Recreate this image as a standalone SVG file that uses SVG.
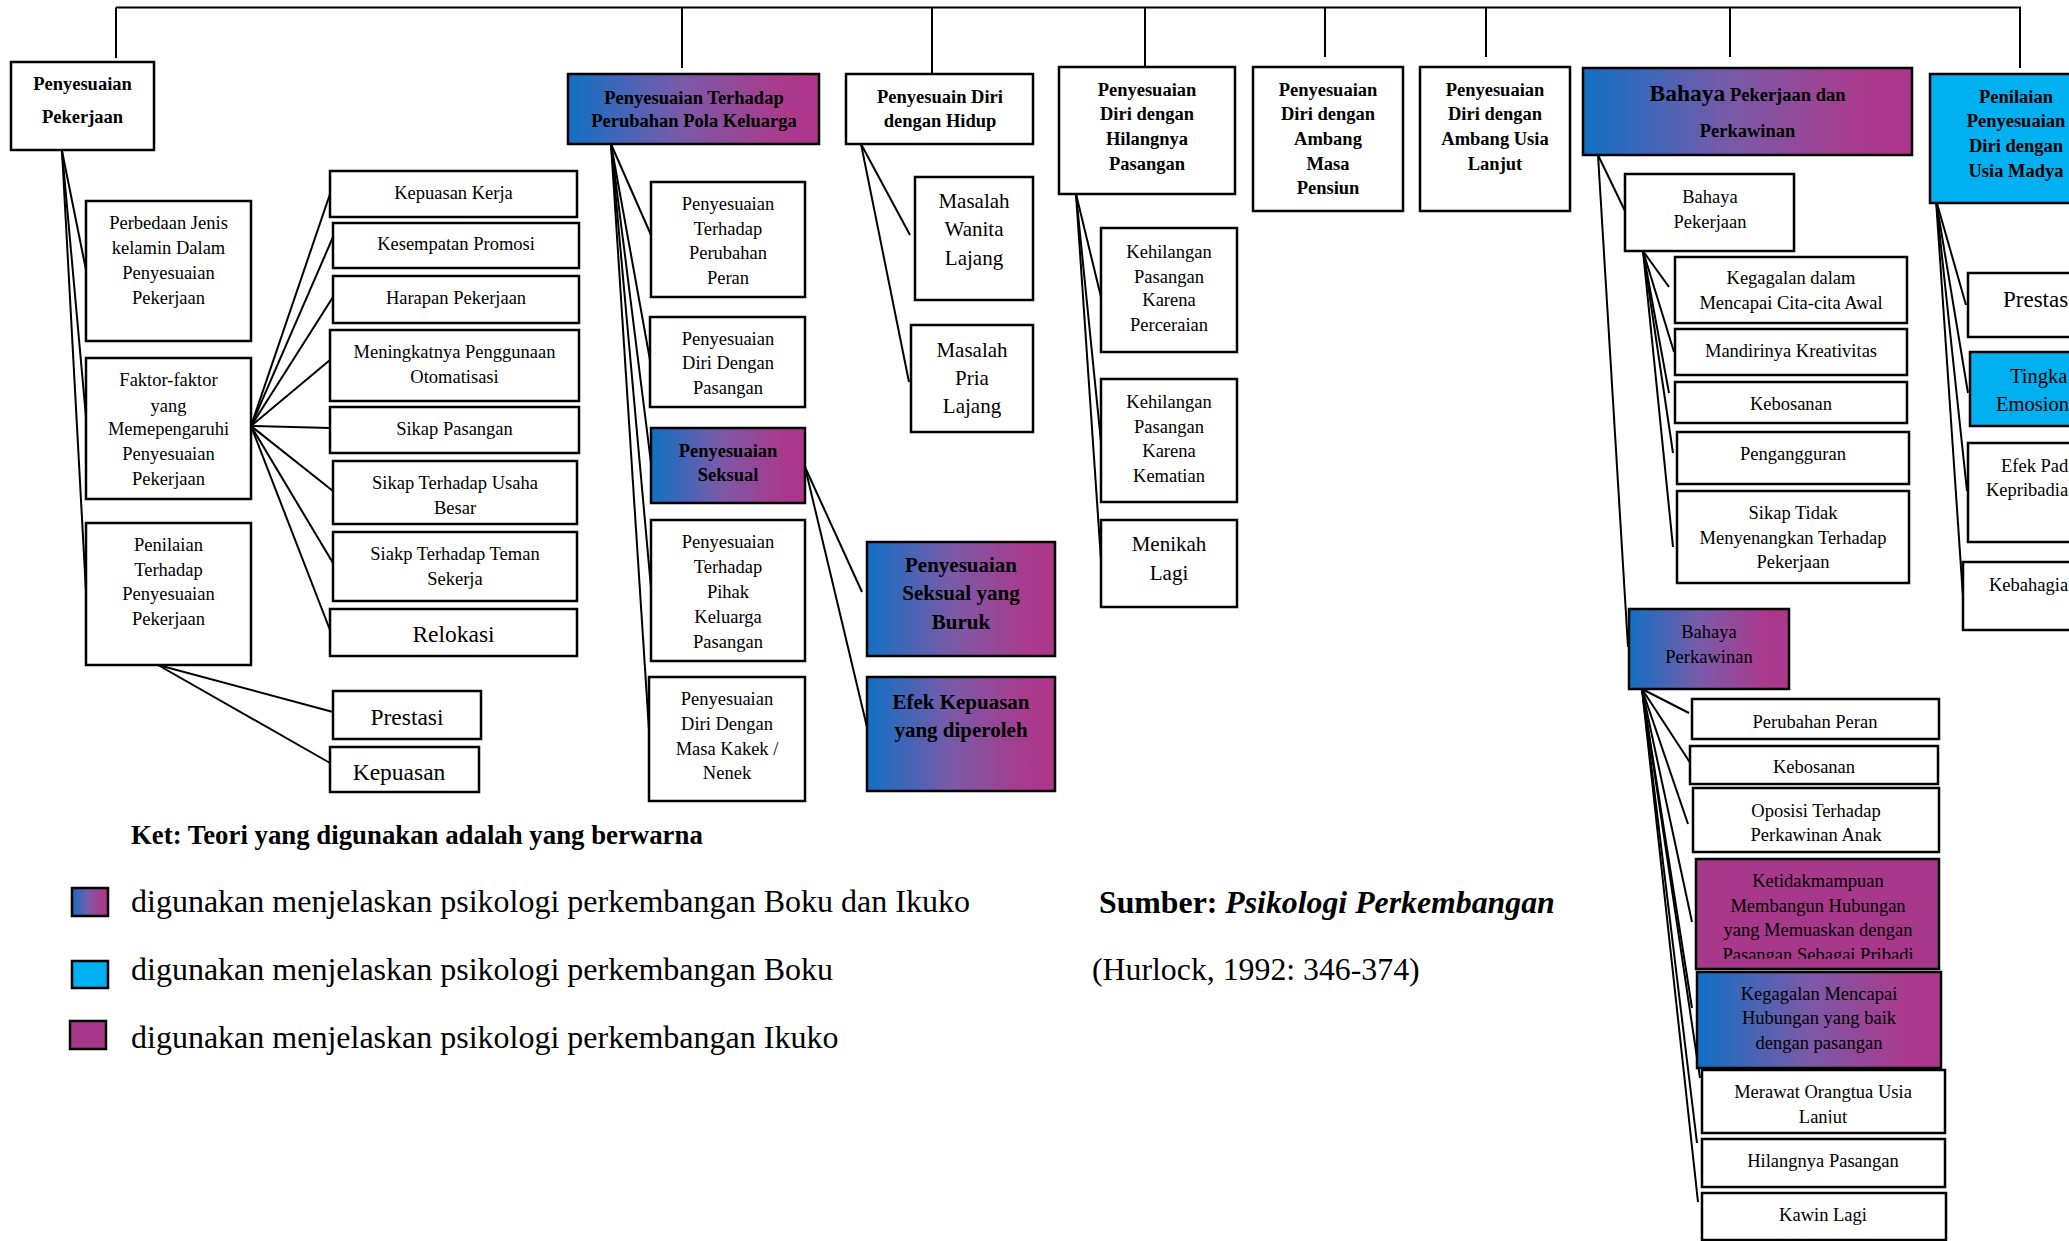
<svg xmlns="http://www.w3.org/2000/svg" width="2069" height="1241" viewBox="0 0 2069 1241">
<defs>
<linearGradient id="gd" x1="0" y1="0" x2="1" y2="0">
<stop offset="0" stop-color="#1170c4"/>
<stop offset="0.45" stop-color="#7a5aa8"/>
<stop offset="0.85" stop-color="#aa3a8c"/>
<stop offset="1" stop-color="#ac368a"/>
</linearGradient>
<clipPath id="clipK"><rect x="1690" y="855" width="260" height="104"/></clipPath>
<clipPath id="clipM"><rect x="1700" y="1068" width="250" height="55.5"/></clipPath>
<style>
.bx{fill:#fff;stroke:#000;stroke-width:2.5}
.gr{fill:url(#gd);stroke:#000;stroke-width:2.5}
.cy{fill:#00b0f0;stroke:#000;stroke-width:2.5}
.mg{fill:#a8388a;stroke:#000;stroke-width:2.5}
.sw{stroke:#000;stroke-width:2.5}
#connectors line{stroke:#000;stroke-width:2;fill:none}
text{font-family:"Liberation Serif","Times New Roman",serif;fill:#000}
.t{font-size:18.5px;text-anchor:middle}
.tb{font-size:18.5px;font-weight:bold;text-anchor:middle}
.m{font-size:21px;text-anchor:middle}
.mb{font-size:21px;font-weight:bold;text-anchor:middle}
.l{font-size:23.5px;text-anchor:middle}
.lg{font-size:32px}
.e{font-size:18.5px}
</style>
</defs>
<rect x="0" y="0" width="2069" height="1241" fill="#fff"/>

<g id="connectors">
<line x1="116" y1="7.5" x2="2021" y2="7.5"/>
<line x1="116" y1="7.5" x2="116" y2="58"/>
<line x1="682" y1="7.5" x2="682" y2="68"/>
<line x1="932" y1="7.5" x2="932" y2="74"/>
<line x1="1145" y1="7.5" x2="1145" y2="67"/>
<line x1="1325" y1="7.5" x2="1325" y2="57"/>
<line x1="1486" y1="7.5" x2="1486" y2="57"/>
<line x1="1730" y1="7.5" x2="1730" y2="57"/>
<line x1="2020" y1="7.5" x2="2020" y2="68"/>
<line x1="62" y1="151" x2="86" y2="270"/>
<line x1="62" y1="151" x2="86" y2="417"/>
<line x1="62" y1="151" x2="86" y2="592"/>
<line x1="251" y1="426" x2="330" y2="194"/>
<line x1="251" y1="426" x2="333" y2="237"/>
<line x1="251" y1="426" x2="333" y2="297"/>
<line x1="251" y1="426" x2="330" y2="360"/>
<line x1="251" y1="426" x2="330" y2="428"/>
<line x1="251" y1="426" x2="333" y2="491"/>
<line x1="251" y1="426" x2="333" y2="563"/>
<line x1="251" y1="426" x2="330" y2="630"/>
<line x1="158" y1="665" x2="333" y2="712"/>
<line x1="158" y1="665" x2="330" y2="763"/>
<line x1="611" y1="144" x2="651" y2="235"/>
<line x1="611" y1="144" x2="650" y2="360"/>
<line x1="611" y1="144" x2="651" y2="463"/>
<line x1="611" y1="144" x2="651" y2="588"/>
<line x1="611" y1="144" x2="649" y2="730"/>
<line x1="805" y1="467" x2="862" y2="592"/>
<line x1="805" y1="467" x2="867" y2="727"/>
<line x1="861" y1="144" x2="910" y2="235"/>
<line x1="861" y1="144" x2="909" y2="382"/>
<line x1="1076" y1="194" x2="1101" y2="297"/>
<line x1="1076" y1="194" x2="1101" y2="442"/>
<line x1="1076" y1="194" x2="1101" y2="560"/>
<line x1="1598" y1="155" x2="1625" y2="211"/>
<line x1="1598" y1="155" x2="1628" y2="647"/>
<line x1="1643" y1="251" x2="1669" y2="287"/>
<line x1="1643" y1="251" x2="1674" y2="352"/>
<line x1="1643" y1="251" x2="1669" y2="393"/>
<line x1="1643" y1="251" x2="1673" y2="453"/>
<line x1="1643" y1="251" x2="1673" y2="547"/>
<line x1="1642" y1="689" x2="1689" y2="713"/>
<line x1="1642" y1="689" x2="1691" y2="764"/>
<line x1="1642" y1="689" x2="1688" y2="824"/>
<line x1="1642" y1="689" x2="1692" y2="922"/>
<line x1="1642" y1="689" x2="1692" y2="1008"/>
<line x1="1642" y1="689" x2="1700" y2="1078"/>
<line x1="1642" y1="689" x2="1697" y2="1143"/>
<line x1="1642" y1="689" x2="1698" y2="1202"/>
<line x1="1936" y1="200" x2="1966" y2="305"/>
<line x1="1936" y1="200" x2="1968" y2="393"/>
<line x1="1936" y1="200" x2="1967" y2="491"/>
<line x1="1936" y1="200" x2="1963" y2="597"/>
</g>

<g id="n-penyesuaian-pekerjaan"><rect class="bx" x="11" y="62" width="143" height="88"/>
<text class="tb"><tspan x="82.5" y="90">Penyesuaian</tspan><tspan x="82.5" y="123">Pekerjaan</tspan></text></g>
<g id="n-perbedaan"><rect class="bx" x="86" y="201" width="165" height="140"/>
<text class="t"><tspan x="168.5" y="229">Perbedaan Jenis</tspan><tspan x="168.5" y="254">kelamin Dalam</tspan><tspan x="168.5" y="279">Penyesuaian</tspan><tspan x="168.5" y="304">Pekerjaan</tspan></text></g>
<g id="n-faktor"><rect class="bx" x="86" y="358" width="165" height="141"/>
<text class="t"><tspan x="168.5" y="386">Faktor-faktor</tspan><tspan x="168.5" y="412">yang</tspan><tspan x="168.5" y="435">Memepengaruhi</tspan><tspan x="168.5" y="460">Penyesuaian</tspan><tspan x="168.5" y="485">Pekerjaan</tspan></text></g>
<g id="n-penilaian"><rect class="bx" x="86" y="523" width="165" height="142"/>
<text class="t"><tspan x="168.5" y="551">Penilaian</tspan><tspan x="168.5" y="576">Terhadap</tspan><tspan x="168.5" y="600">Penyesuaian</tspan><tspan x="168.5" y="625">Pekerjaan</tspan></text></g>
<g id="n-kepuasan-kerja"><rect class="bx" x="330" y="171" width="247" height="46"/><text class="t" x="453.5" y="199">Kepuasan Kerja</text></g>
<g id="n-kesempatan"><rect class="bx" x="333" y="223" width="246" height="45"/><text class="t" x="456" y="250">Kesempatan Promosi</text></g>
<g id="n-harapan"><rect class="bx" x="333" y="276" width="246" height="47"/><text class="t" x="456" y="304">Harapan Pekerjaan</text></g>
<g id="n-meningkatnya"><rect class="bx" x="330" y="330" width="249" height="71"/>
<text class="t"><tspan x="454.5" y="358">Meningkatnya Penggunaan</tspan><tspan x="454.5" y="383">Otomatisasi</tspan></text></g>
<g id="n-sikap-pasangan"><rect class="bx" x="330" y="407" width="249" height="46"/><text class="t" x="454.5" y="435">Sikap Pasangan</text></g>
<g id="n-sikap-usaha"><rect class="bx" x="333" y="461" width="244" height="63"/>
<text class="t"><tspan x="455" y="489">Sikap Terhadap Usaha</tspan><tspan x="455" y="514">Besar</tspan></text></g>
<g id="n-siakp-teman"><rect class="bx" x="333" y="532" width="244" height="69"/>
<text class="t"><tspan x="455" y="560">Siakp Terhadap Teman</tspan><tspan x="455" y="585">Sekerja</tspan></text></g>
<g id="n-relokasi"><rect class="bx" x="330" y="609" width="247" height="47"/><text class="l" x="453.5" y="642">Relokasi</text></g>
<g id="n-prestasi"><rect class="bx" x="333" y="691" width="148" height="48"/><text class="l" x="407" y="725">Prestasi</text></g>
<g id="n-kepuasan"><rect class="bx" x="330" y="747" width="149" height="45"/><text class="l" x="399" y="780">Kepuasan</text></g>

<g id="n-pola-keluarga"><rect class="gr" x="568" y="74" width="251" height="70"/>
<text class="tb"><tspan x="694" y="104">Penyesuaian Terhadap</tspan><tspan x="694" y="127">Perubahan Pola Keluarga</tspan></text></g>
<g id="n-peran"><rect class="bx" x="651" y="182" width="154" height="115"/>
<text class="t"><tspan x="728" y="210">Penyesuaian</tspan><tspan x="728" y="235">Terhadap</tspan><tspan x="728" y="259">Perubahan</tspan><tspan x="728" y="284">Peran</tspan></text></g>
<g id="n-diri-pasangan"><rect class="bx" x="650" y="317" width="155" height="90"/>
<text class="t"><tspan x="728" y="345">Penyesuaian</tspan><tspan x="728" y="369">Diri Dengan</tspan><tspan x="728" y="394">Pasangan</tspan></text></g>
<g id="n-seksual"><rect class="gr" x="651" y="428" width="154" height="75"/>
<text class="tb"><tspan x="728" y="457">Penyesuaian</tspan><tspan x="728" y="481">Seksual</tspan></text></g>
<g id="n-pihak"><rect class="bx" x="651" y="520" width="154" height="141"/>
<text class="t"><tspan x="728" y="548">Penyesuaian</tspan><tspan x="728" y="573">Terhadap</tspan><tspan x="728" y="598">Pihak</tspan><tspan x="728" y="623">Keluarga</tspan><tspan x="728" y="648">Pasangan</tspan></text></g>
<g id="n-kakek"><rect class="bx" x="649" y="677" width="156" height="124"/>
<text class="t"><tspan x="727" y="705">Penyesuaian</tspan><tspan x="727" y="730">Diri Dengan</tspan><tspan x="727" y="755">Masa Kakek /</tspan><tspan x="727" y="779">Nenek</tspan></text></g>
<g id="n-seksual-buruk"><rect class="gr" x="867" y="542" width="188" height="114"/>
<text class="mb"><tspan x="961" y="572">Penyesuaian</tspan><tspan x="961" y="600">Seksual yang</tspan><tspan x="961" y="629">Buruk</tspan></text></g>
<g id="n-efek-kepuasan"><rect class="gr" x="867" y="677" width="188" height="114"/>
<text class="mb"><tspan x="961" y="709">Efek Kepuasan</tspan><tspan x="961" y="737">yang diperoleh</tspan></text></g>

<g id="n-hidup"><rect class="bx" x="846" y="74" width="187" height="70"/>
<text class="tb"><tspan x="940" y="103">Penyesuain Diri</tspan><tspan x="940" y="127">dengan Hidup</tspan></text></g>
<g id="n-wanita"><rect class="bx" x="915" y="177" width="118" height="123"/>
<text class="m"><tspan x="974" y="208">Masalah</tspan><tspan x="974" y="236">Wanita</tspan><tspan x="974" y="265">Lajang</tspan></text></g>
<g id="n-pria"><rect class="bx" x="911" y="325" width="122" height="107"/>
<text class="m"><tspan x="972" y="357">Masalah</tspan><tspan x="972" y="385">Pria</tspan><tspan x="972" y="413">Lajang</tspan></text></g>

<g id="n-hilangnya"><rect class="bx" x="1059" y="67" width="176" height="127"/>
<text class="tb"><tspan x="1147" y="96">Penyesuaian</tspan><tspan x="1147" y="120">Diri dengan</tspan><tspan x="1147" y="145">Hilangnya</tspan><tspan x="1147" y="170">Pasangan</tspan></text></g>
<g id="n-perceraian"><rect class="bx" x="1101" y="228" width="136" height="124"/>
<text class="t"><tspan x="1169" y="258">Kehilangan</tspan><tspan x="1169" y="283">Pasangan</tspan><tspan x="1169" y="306">Karena</tspan><tspan x="1169" y="331">Perceraian</tspan></text></g>
<g id="n-kematian"><rect class="bx" x="1101" y="379" width="136" height="123"/>
<text class="t"><tspan x="1169" y="408">Kehilangan</tspan><tspan x="1169" y="433">Pasangan</tspan><tspan x="1169" y="457">Karena</tspan><tspan x="1169" y="482">Kematian</tspan></text></g>
<g id="n-menikah"><rect class="bx" x="1101" y="520" width="136" height="87"/>
<text class="m"><tspan x="1169" y="551">Menikah</tspan><tspan x="1169" y="580">Lagi</tspan></text></g>

<g id="n-pensiun"><rect class="bx" x="1253" y="67" width="150" height="144"/>
<text class="tb"><tspan x="1328" y="96">Penyesuaian</tspan><tspan x="1328" y="120">Diri dengan</tspan><tspan x="1328" y="145">Ambang</tspan><tspan x="1328" y="170">Masa</tspan><tspan x="1328" y="194">Pensiun</tspan></text></g>
<g id="n-usia-lanjut"><rect class="bx" x="1420" y="67" width="150" height="144"/>
<text class="tb"><tspan x="1495" y="96">Penyesuaian</tspan><tspan x="1495" y="120">Diri dengan</tspan><tspan x="1495" y="145">Ambang Usia</tspan><tspan x="1495" y="170">Lanjut</tspan></text></g>

<g id="n-bahaya"><rect class="gr" x="1583" y="68" width="329" height="87"/>
<text class="tb" x="1747.5" y="101"><tspan style="font-size:23.5px">Bahaya</tspan> Pekerjaan dan</text>
<text class="tb" x="1747.5" y="137">Perkawinan</text></g>
<g id="n-bahaya-pekerjaan"><rect class="bx" x="1625" y="174" width="169" height="77"/>
<text class="t"><tspan x="1710" y="203">Bahaya</tspan><tspan x="1710" y="228">Pekerjaan</tspan></text></g>
<g id="n-kegagalan-cita"><rect class="bx" x="1675" y="257" width="232" height="66"/>
<text class="t"><tspan x="1791" y="284">Kegagalan dalam</tspan><tspan x="1791" y="309">Mencapai Cita-cita Awal</tspan></text></g>
<g id="n-mandirinya"><rect class="bx" x="1675" y="329" width="232" height="46"/><text class="t" x="1791" y="357">Mandirinya Kreativitas</text></g>
<g id="n-kebosanan1"><rect class="bx" x="1675" y="382" width="232" height="41"/><text class="t" x="1791" y="410">Kebosanan</text></g>
<g id="n-pengangguran"><rect class="bx" x="1677" y="432" width="232" height="52"/><text class="t" x="1793" y="460">Pengangguran</text></g>
<g id="n-sikap-tidak"><rect class="bx" x="1677" y="491" width="232" height="92"/>
<text class="t"><tspan x="1793" y="519">Sikap Tidak</tspan><tspan x="1793" y="544">Menyenangkan Terhadap</tspan><tspan x="1793" y="568">Pekerjaan</tspan></text></g>

<g id="n-bahaya-perkawinan"><rect class="gr" x="1629" y="609" width="160" height="80"/>
<text class="t"><tspan x="1709" y="638">Bahaya</tspan><tspan x="1709" y="663">Perkawinan</tspan></text></g>
<g id="n-perubahan-peran"><rect class="bx" x="1692" y="699" width="247" height="40"/><text class="t" x="1815" y="728">Perubahan Peran</text></g>
<g id="n-kebosanan2"><rect class="bx" x="1690" y="746" width="248" height="38"/><text class="t" x="1814" y="773">Kebosanan</text></g>
<g id="n-oposisi"><rect class="bx" x="1693" y="788" width="246" height="64"/>
<text class="t"><tspan x="1816" y="817">Oposisi Terhadap</tspan><tspan x="1816" y="841">Perkawinan Anak</tspan></text></g>
<g id="n-ketidakmampuan"><rect class="mg" x="1696" y="859" width="243" height="110"/>
<text class="t" clip-path="url(#clipK)"><tspan x="1818" y="887">Ketidakmampuan</tspan><tspan x="1818" y="912">Membangun Hubungan</tspan><tspan x="1818" y="936">yang Memuaskan dengan</tspan><tspan x="1818" y="961">Pasangan Sebagai Pribadi</tspan></text></g>
<g id="n-kegagalan-hubungan"><rect class="gr" x="1697" y="972" width="244" height="96"/>
<text class="t"><tspan x="1819" y="1000">Kegagalan Mencapai</tspan><tspan x="1819" y="1024">Hubungan yang baik</tspan><tspan x="1819" y="1049">dengan pasangan</tspan></text></g>
<g id="n-merawat"><rect class="bx" x="1702" y="1070" width="243" height="63"/>
<text class="t" clip-path="url(#clipM)"><tspan x="1823" y="1098">Merawat Orangtua Usia</tspan><tspan x="1823" y="1123">Lanjut</tspan></text></g>
<g id="n-hilangnya-pasangan"><rect class="bx" x="1702" y="1139" width="243" height="48"/><text class="t" x="1823" y="1167">Hilangnya Pasangan</text></g>
<g id="n-kawin-lagi"><rect class="bx" x="1702" y="1193" width="244" height="47"/><text class="t" x="1823" y="1221">Kawin Lagi</text></g>

<g id="n-usia-madya"><rect class="cy" x="1930" y="74" width="180" height="129"/>
<text class="tb"><tspan x="2016" y="103">Penilaian</tspan><tspan x="2016" y="127">Penyesuaian</tspan><tspan x="2016" y="152">Diri dengan</tspan><tspan x="2016" y="177">Usia Madya</tspan></text></g>
<g id="n-prestasi-madya"><rect class="bx" x="1968" y="273" width="144" height="64"/><text x="2003" y="307" style="font-size:23px">Prestas</text></g>
<g id="n-tingkat-emosional"><rect class="cy" x="1970" y="352" width="142" height="74"/>
<text style="font-size:20.5px"><tspan x="2010" y="383">Tingka</tspan><tspan x="1996" y="411">Emosion</tspan></text></g>
<g id="n-efek-kepribadian"><rect class="bx" x="1968" y="443" width="144" height="99"/>
<text class="e"><tspan x="2001" y="472">Efek Pad</tspan><tspan x="1986" y="496">Kepribadia</tspan></text></g>
<g id="n-kebahagiaan"><rect class="bx" x="1963" y="562" width="149" height="68"/><text class="e" x="1989" y="591">Kebahagia</text></g>

<g id="legend">
<text x="131" y="844" style="font-size:26.8px;font-weight:bold">Ket: Teori yang digunakan adalah yang berwarna</text>
<rect class="sw" x="72" y="888" width="36" height="28" fill="url(#gd)"/>
<text class="lg" x="131" y="912">digunakan menjelaskan psikologi perkembangan Boku dan Ikuko</text>
<rect class="sw" x="72" y="961" width="36" height="27" fill="#00b0f0"/>
<text class="lg" x="131" y="980">digunakan menjelaskan psikologi perkembangan Boku</text>
<rect class="sw" x="70" y="1021" width="36" height="28" fill="#a8388a"/>
<text class="lg" x="131" y="1048">digunakan menjelaskan psikologi perkembangan Ikuko</text>
<text x="1099" y="913" style="font-size:31.8px"><tspan font-weight="bold">Sumber: </tspan><tspan font-weight="bold" font-style="italic">Psikologi Perkembangan</tspan></text>
<text x="1092" y="980" style="font-size:31.8px">(Hurlock, 1992: 346-374)</text>
</g>
</svg>
